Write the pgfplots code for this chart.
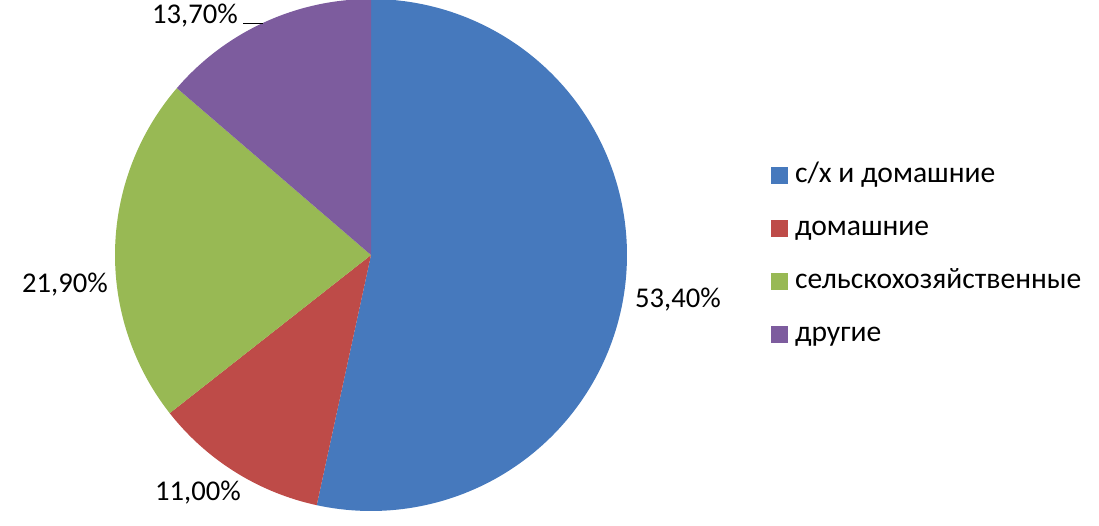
\documentclass[border=0pt]{standalone}
\usepackage{fontspec}
\setmainfont{Carlito}
\usepackage{pgfplots}
\pgfplotsset{compat=1.18}
\definecolor{cA}{HTML}{4679BD}
\definecolor{cB}{HTML}{BE4B48}
\definecolor{cC}{HTML}{98B954}
\definecolor{cD}{HTML}{7D5C9E}
% shares in percent
\def\vA{53.4}
\def\vB{11.0}
\def\vC{21.9}
\def\vD{13.7}
\pgfmathsetmacro\aA{90}
\pgfmathsetmacro\aB{\aA-3.6*\vA}
\pgfmathsetmacro\aC{\aB-3.6*\vB}
\pgfmathsetmacro\aD{\aC-3.6*\vC}
\pgfmathsetmacro\aE{\aD-3.6*\vD}
\begin{document}
\fontsize{28.6pt}{34pt}\selectfont
\begin{tikzpicture}
\useasboundingbox (0,0) rectangle (1099pt,525pt);
\begin{axis}[
  scale only axis, width=1099pt, height=525pt,
  xmin=0, xmax=1099, ymin=0, ymax=525,
  hide axis, clip=false,
  legend style={draw=none, fill=none, inner sep=0pt, outer sep=0pt,
    at={(axis cs:771,363)}, anchor=north west, row sep=26pt, column sep=7pt,
    font=\fontsize{29.6pt}{34pt}\selectfont,
    nodes={inner sep=0pt, text height=21pt, text depth=6pt, anchor=base west}},
  legend cell align=left,
  legend image code/.code={\fill[#1] (0pt,-1pt) rectangle (17pt,16pt);},
]
\addplot[fill=cA, draw=none, domain=\aB:\aA, samples=150, variable=\t]
  ({371+256*cos(\t)},{270+256*sin(\t)}) -- (371,270) -- cycle;
\addlegendentry{с/х и домашние}
\addplot[fill=cB, draw=none, domain=\aC:\aB, samples=60, variable=\t]
  ({371+256*cos(\t)},{270+256*sin(\t)}) -- (371,270) -- cycle;
\addlegendentry{домашние}
\addplot[fill=cC, draw=none, domain=\aD:\aC, samples=80, variable=\t]
  ({371+256*cos(\t)},{270+256*sin(\t)}) -- (371,270) -- cycle;
\addlegendentry{сельскохозяйственные}
\addplot[fill=cD, draw=none, domain=\aE:\aD, samples=60, variable=\t]
  ({371+256*cos(\t)},{270+256*sin(\t)}) -- (371,270) -- cycle;
\addlegendentry{другие}
\node[anchor=base west, inner sep=0pt] at (635,218) {53,40\%};
\node[anchor=base west, inner sep=0pt] at (155,25) {11,00\%};
\node[anchor=base west, inner sep=0pt] at (22,232) {21,90\%};
\node[anchor=base west, inner sep=0pt] at (152,501) {13,70\%};
\draw[black, line width=0.8pt] (243,502) -- (263,502);
\end{axis}
\end{tikzpicture}
\end{document}
